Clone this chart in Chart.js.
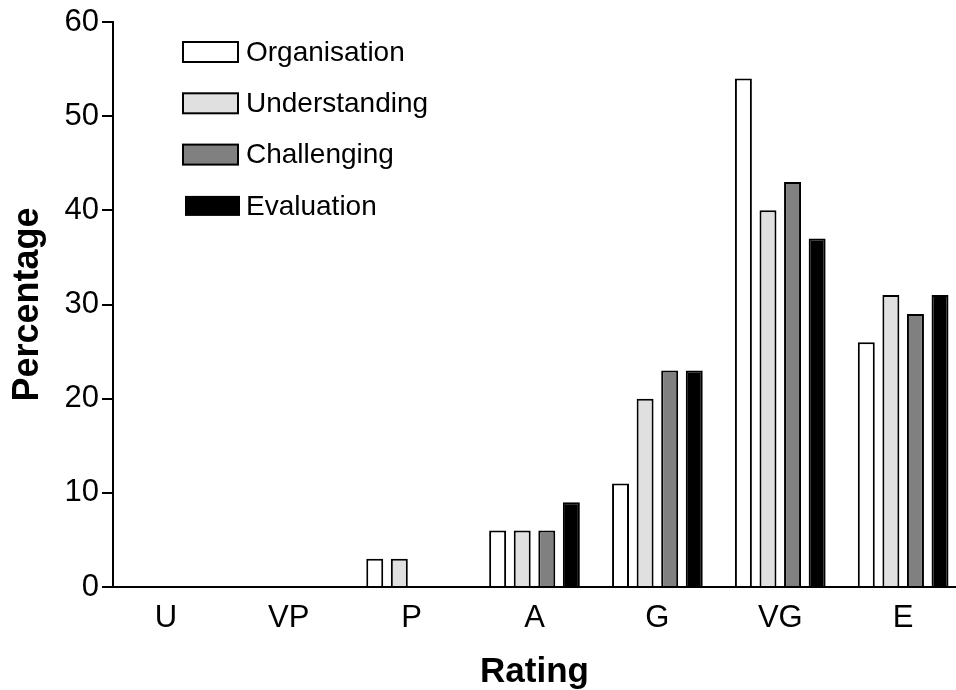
<!DOCTYPE html>
<html>
<head>
<meta charset="utf-8">
<script src="https://cdn.jsdelivr.net/npm/chart.js@4/dist/chart.umd.min.js"></script>
<style>
  html, body { margin: 0; padding: 0; background: #fff; }
  #wrap { width: 956px; height: 690px; }
</style>
</head>
<body>
<div id="wrap"><canvas id="ratingChart" width="956" height="690"></canvas></div>
<script>
const ratings = ['U', 'VP', 'P', 'A', 'G', 'VG', 'E'];
const organisation = [0, 0, 3, 6, 11, 54, 26];
const understanding = [0, 0, 3, 6, 20, 40, 31];
const challenging = [0, 0, 0, 6, 23, 43, 29];
const evaluation = [0, 0, 0, 9, 23, 37, 31];
const yTicks = [0, 10, 20, 30, 40, 50, 60];

const FONT = "'Liberation Sans', Arial, sans-serif";

// x is a linear index axis so the groups can sit off-centre like the original
const toPoints = arr => arr.map((v, i) => ({ x: i, y: v }));

// legend drawn inside the plot, top-left
const insideLegend = {
  id: 'insideLegend',
  afterDraw(chart) {
    const ctx = chart.ctx;
    const x0 = chart.chartArea.left + 70;
    let y = chart.chartArea.top + 30;
    ctx.save();
    ctx.font = '28px ' + FONT;
    ctx.textBaseline = 'middle';
    chart.data.datasets.forEach(ds => {
      ctx.fillStyle = ds.backgroundColor;
      if (ds.backgroundColor === '#000000') {
        ctx.fillRect(x0 + 2, y - 10, 55, 20);
      } else {
        ctx.fillRect(x0, y - 10, 55, 20);
        ctx.strokeStyle = '#000';
        ctx.lineWidth = 2;
        ctx.strokeRect(x0, y - 10, 55, 20);
      }
      ctx.fillStyle = '#000';
      ctx.fillText(ds.label, x0 + 63, y + 1);
      y += 51.3;
    });
    ctx.restore();
  }
};

const ctx = document.getElementById('ratingChart');
new Chart(ctx, {
  type: 'bar',
  data: {
    datasets: [
      { label: 'Organisation', data: toPoints(organisation), backgroundColor: '#ffffff' },
      { label: 'Understanding', data: toPoints(understanding), backgroundColor: '#e0e0e0' },
      { label: 'Challenging', data: toPoints(challenging), backgroundColor: '#808080' },
      { label: 'Evaluation', data: toPoints(evaluation), backgroundColor: '#000000' }
    ]
  },
  options: {
    responsive: false,
    animation: false,
    layout: { padding: { top: 22, right: 0, left: 0, bottom: 0 } },
    datasets: {
      bar: {
        borderColor: '#000',
        borderWidth: 2,
        categoryPercentage: 0.80,
        barPercentage: 0.69
      }
    },
    plugins: {
      legend: { display: false },
      tooltip: { enabled: false }
    },
    scales: {
      x: {
        type: 'linear',
        offset: false,
        min: -0.43,
        max: 6.43,
        afterBuildTicks(scale) { scale.ticks = ratings.map((r, i) => ({ value: i })); },
        grid: { display: false },
        border: { color: '#000', width: 2 },
        ticks: {
          color: '#000', font: { family: FONT, size: 31 }, padding: 5,
          callback: v => ratings[v]
        },
        title: {
          display: true, text: 'Rating', color: '#000',
          font: { family: FONT, size: 35, weight: 'bold', lineHeight: 1.0 }, padding: { top: 2, bottom: 0 }
        },
        afterFit(scale) { scale.height = 103; }
      },
      y: {
        min: 0, max: 60,
        afterBuildTicks(scale) { scale.ticks = yTicks.map(v => ({ value: v })); },
        grid: { drawOnChartArea: false, drawTicks: true, tickLength: 11, color: '#000', lineWidth: 2 },
        border: { color: '#000', width: 2 },
        ticks: { color: '#000', font: { family: FONT, size: 31 }, padding: 3 },
        title: {
          display: true, text: 'Percentage', color: '#000',
          font: { family: FONT, size: 36, weight: 'bold' }, padding: { top: 6, bottom: 0 }
        },
        afterFit(scale) { scale.width = 113; }
      }
    }
  },
  plugins: [insideLegend]
});
</script>
</body>
</html>
